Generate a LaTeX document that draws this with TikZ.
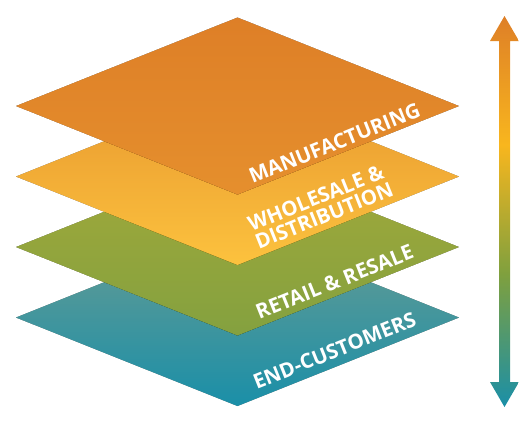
\documentclass[tikz,border=0pt]{standalone}
\usepackage{fontspec}
\setmainfont{Open Sans}
\usetikzlibrary{calc}

\definecolor{manuTop}{HTML}{DE7F27}
\definecolor{manuBot}{HTML}{E58F2D}
\definecolor{wholeTop}{HTML}{E8982F}
\definecolor{wholeBot}{HTML}{FCC23E}
\definecolor{retailTop}{HTML}{A2A93A}
\definecolor{retailBot}{HTML}{84A13F}
\definecolor{endTop}{HTML}{6A9C92}
\definecolor{endBot}{HTML}{1A8FA8}
\definecolor{arrowYel}{HTML}{F8B61E}
\definecolor{arrowGrn}{HTML}{7FA03E}

% arrow gradient, path is mapped onto 25bp..75bp
\pgfdeclareverticalshading{flowshade}{100bp}{%
	color(0bp)=(endBot); color(25bp)=(endBot);
	color(42bp)=(arrowGrn); color(58.5bp)=(arrowYel);
	color(75bp)=(manuTop); color(100bp)=(manuTop)}

\tikzset{
	layershadow/.style={fill=black, opacity=0.04},
	lbl/.style={text=white, font=\bfseries\fontsize{20.5}{21}\selectfont,
		rotate=21.8, inner sep=0pt}
}

\newcommand{\rhomb}[1]{%
	($(#1)+(0,-88.5)$) -- ($(#1)+(221.5,0)$) -- ($(#1)+(0,88.5)$)
	-- ($(#1)+(-221.5,0)$) -- cycle}
\newcommand{\layer}[3]{%
	\foreach \d in {1,...,18}
		\path[layershadow, shift={(0,\d)}] \rhomb{#1};
	\path[top color=#2, bottom color=#3] \rhomb{#1};}

\begin{document}
\begin{tikzpicture}[x=1pt, y=-1pt]
	\useasboundingbox (0,0) rectangle (519,432);
	\coordinate (endc)    at (237.5,317.5);
	\coordinate (retailc) at (237.5,247);
	\coordinate (wholec)  at (237.5,176.5);
	\coordinate (manuc)   at (237.5,106);
	% layers, bottom first so shadows fall on the one below
	\layer{endc}{endTop}{endBot}
	\layer{retailc}{retailTop}{retailBot}
	\layer{wholec}{wholeTop}{wholeBot}
	\layer{manuc}{manuTop}{manuBot}
	% labels
	\node[lbl] (endl)    at ($(endc)+(97,33)$) {END-CUSTOMERS};
	\node[lbl] (retaill) at ($(retailc)+(97,35)$) {RETAIL \& RESALE};
	\node[lbl, align=left, font=\bfseries\fontsize{20.5}{19.5}\selectfont]
		(wholel) at ($(wholec)+(83,30)$) {WHOLESALE \&\\DISTRIBUTION};
	\node[lbl] (manul)   at ($(manuc)+(97,37)$) {MANUFACTURING};
	% double arrow
	\shade[shading=flowshade] (504.5,16) -- (519,41) -- (510,41) -- (510,382)
		-- (519,382) -- (504.5,407) -- (490,382) -- (499,382) -- (499,41)
		-- (490,41) -- cycle;
\end{tikzpicture}
\end{document}
